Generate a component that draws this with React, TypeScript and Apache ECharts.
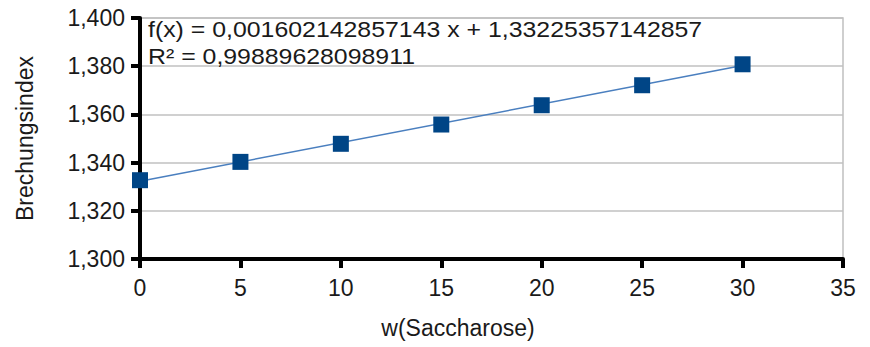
import React, { useEffect, useRef } from "react";
import * as echarts from "echarts";

const xValues = [0, 5, 10, 15, 20, 25, 30];
const yValues = [1.3327, 1.3403, 1.3478, 1.3558, 1.3638, 1.3721, 1.3808];
const slope = 0.001602142857143;
const intercept = 1.33225357142857;
const trendX = [0, 30];
const equationText = "f(x) = 0,001602142857143 x + 1,33225357142857";
const r2Text = "R² = 0,99889628098911";
const xName = "w(Saccharose)";
const yName = "Brechungsindex";

const FONT = "'Liberation Sans', Arial, sans-serif";
const TXT = "#1a1a1a";

export default function App() {
  const ref = useRef<HTMLDivElement>(null);
  useEffect(() => {
    if (!ref.current) return;
    const chart = echarts.init(ref.current, null, { renderer: "svg" });
    chart.setOption({
      animation: false,
      backgroundColor: "#ffffff",
      grid: {
        left: 140,
        right: 27,
        top: 18,
        bottom: 88,
        show: true,
        borderColor: "#c0c0c0",
        borderWidth: 1.5,
        backgroundColor: "transparent",
        z: -1,
      },
      xAxis: {
        type: "value",
        min: 0,
        max: 35,
        interval: 5,
        name: xName,
        nameLocation: "middle",
        nameGap: 57,
        nameTextStyle: { fontFamily: FONT, fontSize: 23, color: TXT, padding: [0, 67, 0, 0] },
        axisLine: { show: true, onZero: false, lineStyle: { color: "#000000", width: 4 } },
        axisTick: { show: true, length: 9, lineStyle: { color: "#000000", width: 4 } },
        axisLabel: { margin: 17, fontFamily: FONT, fontSize: 23, color: TXT },
        splitLine: { show: false },
        z: 1,
      },
      yAxis: {
        type: "value",
        min: 1.3,
        max: 1.4,
        interval: 0.02,
        name: yName,
        nameLocation: "middle",
        nameGap: 104,
        nameTextStyle: { fontFamily: FONT, fontSize: 23, color: TXT },
        axisLine: { show: true, onZero: false, lineStyle: { color: "#000000", width: 4 } },
        axisTick: { show: true, length: 9, lineStyle: { color: "#000000", width: 4 } },
        axisLabel: {
          margin: 15,
          fontFamily: FONT,
          fontSize: 23,
          color: TXT,
          formatter: (v: number) => v.toFixed(3).replace(".", ","),
        },
        splitLine: { show: true, showMinLine: false, lineStyle: { color: "#c0c0c0", width: 1.5 } },
        z: 0,
      },
      series: [
        {
          type: "line",
          data: trendX.map((x) => [x, intercept + slope * x]),
          showSymbol: false,
          symbol: "none",
          lineStyle: { color: "#4a7fbf", width: 1.5 },
          silent: true,
          z: 2,
        },
        {
          type: "scatter",
          data: xValues.map((x, i) => [x, yValues[i]]),
          symbol: "rect",
          symbolSize: 16,
          itemStyle: { color: "#004586", opacity: 1 },
          z: 3,
        },
      ],
      graphic: [
        {
          type: "text",
          left: 148,
          top: 18,
          scaleX: 1.13,
          style: { text: equationText, fontFamily: FONT, fontSize: 22, fill: TXT },
          z: 10,
        },
        {
          type: "text",
          left: 148,
          top: 45,
          scaleX: 1.13,
          style: { text: r2Text, fontFamily: FONT, fontSize: 22, fill: TXT },
          z: 10,
        },
      ],
    });
    return () => chart.dispose();
  }, []);
  return <div ref={ref} style={{ width: 870, height: 347, position: "absolute", left: 0, top: 0 }} />;
}
